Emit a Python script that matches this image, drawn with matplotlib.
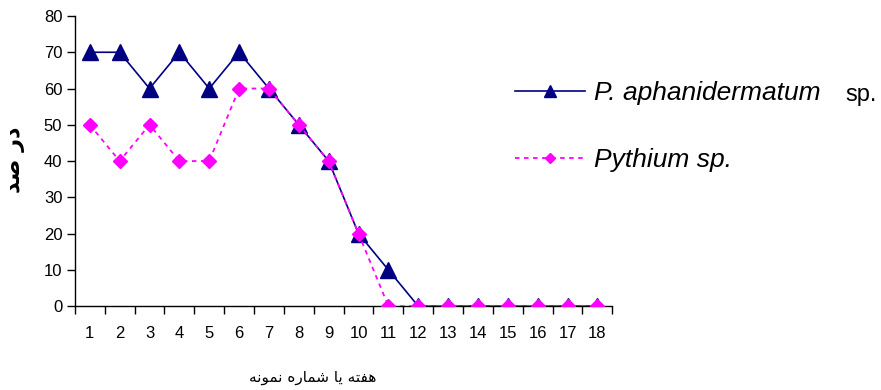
import matplotlib
matplotlib.use("Agg")
import matplotlib.pyplot as plt

# data
weeks = list(range(1, 19))
aphanidermatum = [70, 70, 60, 70, 60, 70, 60, 50, 40, 20, 10, 0, 0, 0, 0, 0, 0, 0]
pythium = [50, 40, 50, 40, 40, 60, 60, 50, 40, 20, 0, 0, 0, 0, 0, 0, 0, 0]
series_names = ["P. aphanidermatum", "Pythium sp."]
x_title = "هفته یا شماره نمونه"
y_title = "در صد"

# presentation forms: isolated, final, initial, medial
FORMS = {
    "ا": ("\uFE8D", "\uFE8E", None, None),
    "ت": ("\uFE95", "\uFE96", "\uFE97", "\uFE98"),
    "د": ("\uFEA9", "\uFEAA", None, None),
    "ر": ("\uFEAD", "\uFEAE", None, None),
    "ش": ("\uFEB5", "\uFEB6", "\uFEB7", "\uFEB8"),
    "ص": ("\uFEB9", "\uFEBA", "\uFEBB", "\uFEBC"),
    "ف": ("\uFED1", "\uFED2", "\uFED3", "\uFED4"),
    "م": ("\uFEE1", "\uFEE2", "\uFEE3", "\uFEE4"),
    "ن": ("\uFEE5", "\uFEE6", "\uFEE7", "\uFEE8"),
    "ه": ("\uFEE9", "\uFEEA", "\uFEEB", "\uFEEC"),
    "و": ("\uFEED", "\uFEEE", None, None),
    "ی": ("\uFBFC", "\uFBFD", "\uFEF3", "\uFEF4"),
}


def shape(text):
    """Join Persian letters and flip to visual order (matplotlib has no shaping)."""
    out = []
    for i, c in enumerate(text):
        if c not in FORMS:
            out.append(c)
            continue
        prev = text[i - 1] if i > 0 else ""
        nxt = text[i + 1] if i + 1 < len(text) else ""
        joins_prev = prev in FORMS and FORMS[prev][2] is not None
        joins_next = FORMS[c][2] is not None and nxt in FORMS
        if joins_prev and joins_next:
            out.append(FORMS[c][3])
        elif joins_prev:
            out.append(FORMS[c][1])
        elif joins_next:
            out.append(FORMS[c][2])
        else:
            out.append(FORMS[c][0])
    return "".join(reversed(out))


plt.rcParams["font.family"] = ["Liberation Sans", "DejaVu Sans"]

fig = plt.figure(figsize=(8.81, 3.90), dpi=100)
ax = fig.add_axes([0.085, 0.215, 0.610, 0.744])

ax.plot(weeks, aphanidermatum, color="#000080", lw=1.2, marker="^", ms=11,
        label=series_names[0], zorder=3)
ax.plot(weeks, pythium, color="#FF00FF", lw=1.3, ls=(0, (2.5, 2.5)), marker="D",
        ms=7, label=series_names[1], zorder=4)

ax.set_xlim(0.5, 18.5)
ax.set_ylim(0, 80)
ax.set_xticks(weeks)
ax.set_xticks([w + 0.5 for w in [0] + weeks], minor=True)
ax.set_yticks(range(0, 81, 10))
ax.tick_params(axis="x", which="major", length=0, pad=14, labelsize=12)
ax.tick_params(axis="x", which="minor", length=6, direction="out", width=1)
ax.tick_params(axis="y", length=6, direction="out", width=1, pad=3, labelsize=12)
for s in ["top", "right"]:
    ax.spines[s].set_visible(False)
for s in ["left", "bottom"]:
    ax.spines[s].set_linewidth(1)

leg = ax.legend(loc="upper left", bbox_to_anchor=(0.573, 0.819),
                bbox_transform=fig.transFigure, frameon=False,
                prop={"style": "italic", "size": 19}, handlelength=2.65,
                handletextpad=0.34, labelspacing=1.62, borderaxespad=0,
                markerscale=0.8)
fig.text(0.959, 0.756, "sp.", fontsize=17, ha="left", va="center")

fig.text(0.355, 0.033, shape(x_title), family=["DejaVu Sans"], fontsize=11,
         ha="center", va="center")
fig.text(0.017, 0.59, shape(y_title), family=["DejaVu Sans"], fontsize=16,
         fontweight="bold", rotation=90, ha="center", va="center")

fig.savefig("out.png", dpi=100)
